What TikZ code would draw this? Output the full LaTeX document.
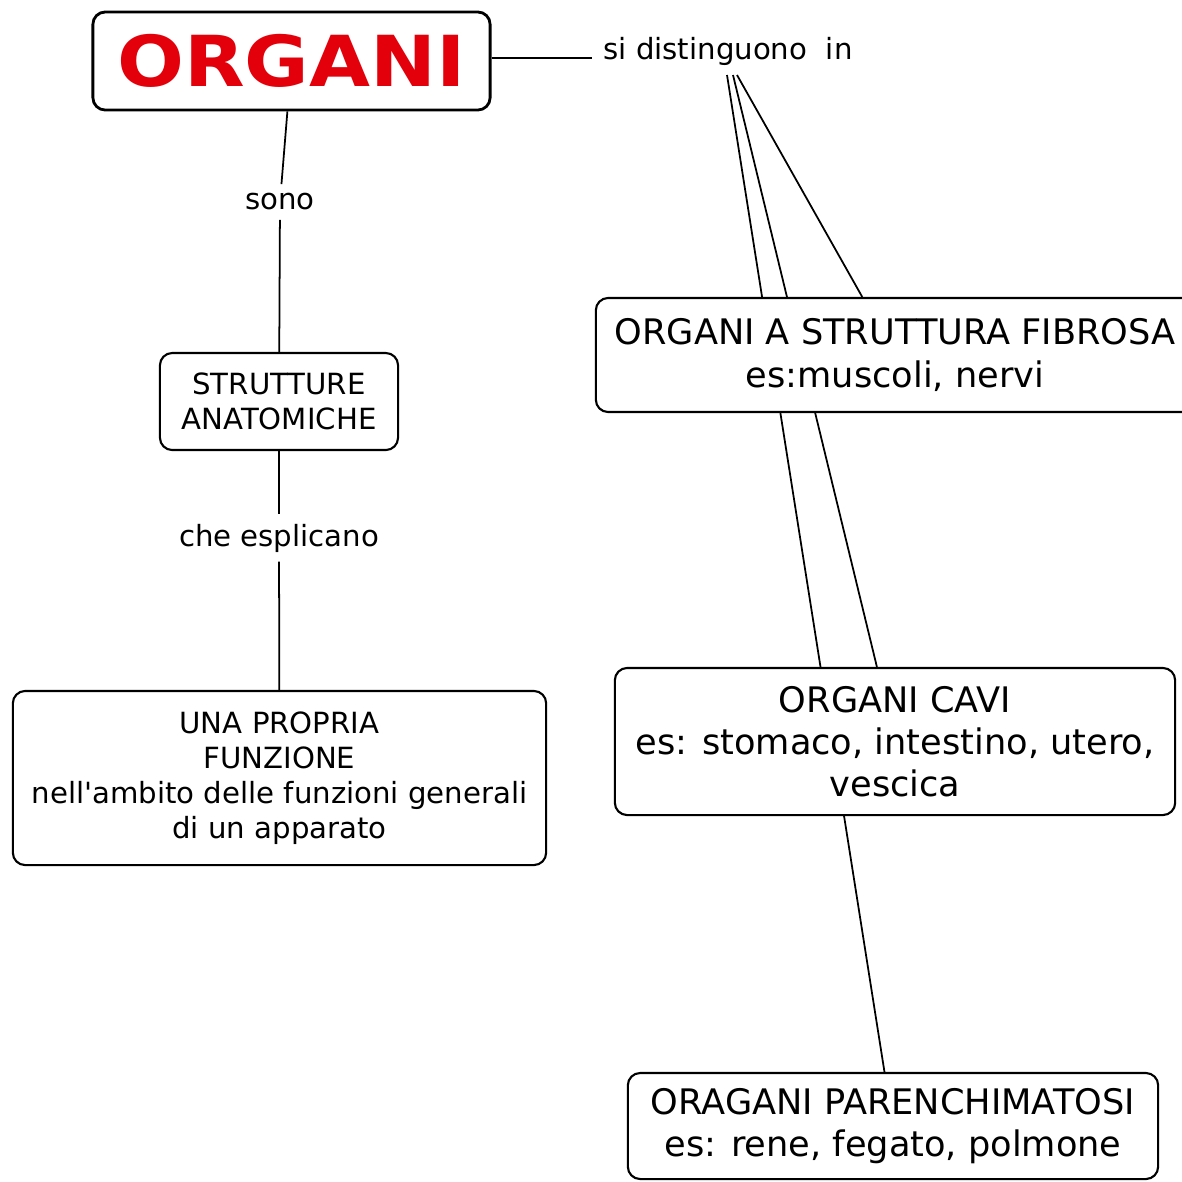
\documentclass[tikz,border=0pt]{standalone}
\usepackage{fontspec}
\setmainfont{DejaVu Sans}
\newfontfamily\titlefont{DejaVu Sans}[FakeStretch=1.12]
\usetikzlibrary{backgrounds}

\definecolor{titlered}{RGB}{228,0,10}

\tikzset{
  concept/.style={draw, line width=0.6pt, rounded corners=3.5pt, fill=white, align=center, inner sep=0pt},
  bigtext/.style={font=\fontsize{10}{12}\selectfont},
  smalltext/.style={font=\fontsize{8.3}{10}\selectfont},
  linkword/.style={inner sep=2.5pt, font=\fontsize{8.3}{10}\selectfont},
  link/.style={line width=0.5pt}
}

\begin{document}
\begin{tikzpicture}[x=0.01cm,y=-0.01cm]
  \useasboundingbox (0,0) rectangle (1182,1181);
  % main concept
  \node[concept, line width=0.8pt, minimum width=3.97cm, minimum height=0.98cm,
        font=\titlefont\bfseries\fontsize{20}{24}\selectfont, text=titlered] (organi) at (291.5,61) {ORGANI};
  % left branch
  \node[linkword] (sono) at (280,202) {sono};
  \node[concept, smalltext, minimum width=2.38cm, minimum height=0.97cm] (strutture) at (279,401.5) {STRUTTURE\\ANATOMICHE};
  \node[linkword] (esplicano) at (279,538) {che esplicano};
  \node[concept, smalltext, minimum width=5.33cm, minimum height=1.74cm] (funzione) at (279.5,778)
    {UNA PROPRIA\\FUNZIONE\\nell\textquotesingle ambito delle funzioni generali\\di un apparato};
  % right branch
  \node[linkword, inner sep=3pt] (sid) at (728,51) {si distinguono~ in};
  \coordinate (fanA) at (727,75);
  \coordinate (fanB) at (733,75);
  \coordinate (fanC) at (737,75);
  \node[concept, bigtext, minimum width=5.98cm, minimum height=1.14cm] (fibrosa) at (895,355)
    {ORGANI A STRUTTURA FIBROSA\\es:muscoli, nervi};
  \node[concept, bigtext, minimum width=5.60cm, minimum height=1.47cm] (cavi) at (895,741.5)
    {ORGANI CAVI\\es: stomaco, intestino, utero,\\vescica};
  \node[concept, bigtext, minimum width=5.30cm, minimum height=1.06cm] (parench) at (893,1126)
    {ORAGANI PARENCHIMATOSI\\es: rene, fegato, polmone};
  % connectors
  \draw[link] (organi) -- (sono);
  \draw[link] (sono) -- (strutture);
  \draw[link] (strutture) -- (esplicano);
  \draw[link] (esplicano) -- (funzione);
  \draw[link] ([yshift=0.9]organi.east) -- ([yshift=0.9]organi.east -| sid.west);
  \begin{scope}[on background layer]
    \draw[link] (fanA) -- (parench);
    \draw[link] (fanB) -- (cavi);
    \draw[link] (fanC) -- (fibrosa);
  \end{scope}
\end{tikzpicture}
\end{document}
